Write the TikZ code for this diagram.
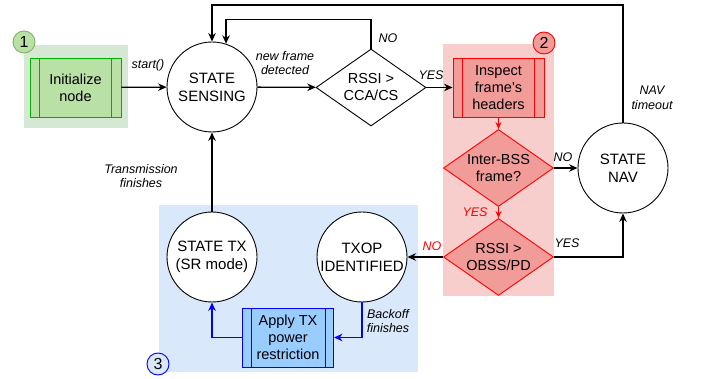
\documentclass[tikz,border=0pt]{standalone}
\usepackage{fontspec}
\setmainfont{Liberation Sans}
\usetikzlibrary{shapes.geometric,arrows.meta,calc}
\definecolor{gbg}{HTML}{D5E8D4}
\definecolor{gfill}{HTML}{B9E0A5}
\definecolor{gline}{HTML}{00B000}
\definecolor{gbadge}{HTML}{82B366}
\definecolor{rbg}{HTML}{F8CECC}
\definecolor{rfill}{HTML}{F19C99}
\definecolor{rline}{HTML}{FF0000}
\definecolor{bbg}{HTML}{DAE8FC}
\definecolor{bfill}{HTML}{99CCFF}
\definecolor{bline}{HTML}{0000FF}
\tikzset{
  nodetext/.style={font=\fontsize{14.5}{17}\selectfont, align=center},
  proc/.style={draw, rectangle, line width=0.9pt, minimum width=91, minimum height=59, inner sep=0, nodetext},
  state/.style={draw, circle, fill=white, line width=0.9pt, minimum size=90, inner sep=0, font=\fontsize{15}{18}\selectfont, align=center},
  dec/.style={draw, diamond, line width=0.9pt, minimum width=110, minimum height=77, inner sep=0, aspect=1.43, nodetext},
  lbl/.style={font=\fontsize{12.5}{14.5}\selectfont\itshape, align=center, inner sep=0},
  badge/.style={draw, circle, line width=0.9pt, minimum size=22, inner sep=0, font=\fontsize{16}{16}\selectfont},
  conn/.style={line width=1.3pt, -{Stealth[length=8.5pt,width=7.5pt]}},
}
\begin{document}
\begin{tikzpicture}[x=1pt,y=-1pt]
\useasboundingbox (0,0) rectangle (701,379);
% backgrounds
\fill[gbg] (24,45) rectangle (128,128);
\fill[rbg] (443,44) rectangle (554,296);
\fill[bbg] (159,205) rectangle (418,372);
% badges
\node[badge, fill=gfill, draw=gbadge] (b1) at (24,42) {1};
\node[badge, fill=rfill, draw=rline] (b2) at (544,43) {2};
\node[badge, fill=bbg, draw=bline] (b3) at (158,364) {3};
% nodes
\node[proc, fill=gfill, draw=gline] (init) at (75.5,87.5) {Initialize\\node};
\draw[gline, line width=0.9pt] ([xshift=10]init.north west) -- ([xshift=10]init.south west)
  ([xshift=-10]init.north east) -- ([xshift=-10]init.south east);
\node[state] (sens) at (212,87) {STATE\\SENSING};
\node[dec, fill=white] (cca) at (371,87.5) {RSSI >\\CCA/CS};
\node[proc, fill=rfill, draw=rline] (insp) at (498.5,87.5) {Inspect\\frame's\\headers};
\draw[rline, line width=0.9pt] ([xshift=10]insp.north west) -- ([xshift=10]insp.south west)
  ([xshift=-10]insp.north east) -- ([xshift=-10]insp.south east);
\node[dec, fill=rfill, draw=rline] (inter) at (498.5,168) {Inter-BSS\\frame?};
\node[state] (nav) at (623,168) {STATE\\NAV};
\node[dec, fill=rfill, draw=rline] (obss) at (498.5,257) {RSSI >\\OBSS/PD};
\node[state] (txop) at (362,257) {TXOP\\IDENTIFIED};
\node[state] (tx) at (212,257) {STATE TX\\(SR mode)};
\node[proc, fill=bfill, draw=bline] (apply) at (288,337.5) {Apply TX\\power\\restriction};
\draw[bline, line width=0.9pt] ([xshift=9]apply.north west) -- ([xshift=9]apply.south west)
  ([xshift=-9]apply.north east) -- ([xshift=-9]apply.south east);
\coordinate (top) at (0,5);
% connectors
\draw[conn] (init) -- (sens);
\node[lbl] (lstart) at (148,65) {start()};
\draw[conn] (sens) -- (cca);
\node[lbl] (lnew) at (285,63) {new frame\\detected};
\draw[conn] (cca.north) -- ++(0,-29) -| (sens.72);
\node[lbl] (lno1) at (388,38) {NO};
\draw[conn] (nav.north) -- (nav.north |- top) -| (sens.north);
\node[lbl] (lnav) at (652,98) {NAV\\timeout};
\draw[conn] (cca) -- (insp);
\node[lbl] (lyes1) at (431,75) {YES};
\draw[conn, rline, line width=1pt, -{Stealth[length=7pt,width=6pt]}] (insp) -- (inter);
\draw[conn] (inter) -- (nav);
\node[lbl] (lno2) at (563,157) {NO};
\draw[conn, rline, line width=1pt, -{Stealth[length=7pt,width=6pt]}] (inter) -- (obss);
\node[lbl, text=rline] (lyes2) at (475,212) {YES};
\draw[conn] (obss.east) -| (nav.south);
\node[lbl] (lyes3) at (567,243) {YES};
\draw[conn] (obss) -- (txop);
\node[lbl, text=rline] (lno3) at (432,246) {NO};
\draw[conn] (tx) -- (sens);
\node[lbl] (ltrans) at (141,176) {Transmission\\finishes};
\draw[conn, bline] (txop.south) |- (apply.east);
\node[lbl] (lback) at (388,321) {Backoff\\finishes};
\draw[conn, bline] (apply.west) -| (tx.south);
\end{tikzpicture}
\end{document}
